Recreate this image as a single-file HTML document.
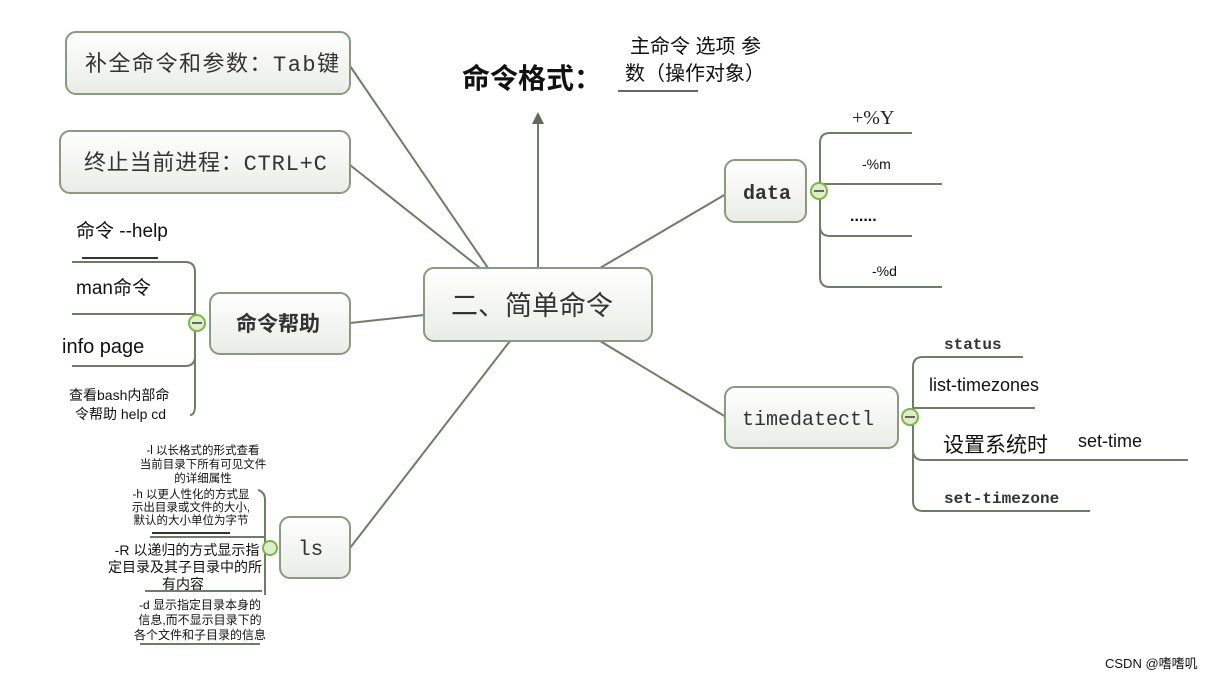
<!DOCTYPE html>
<html><head><meta charset="utf-8"><style>
html,body{margin:0;padding:0;background:#fff;}
svg{display:block;}
.b{fill:url(#g);stroke:#8a9a80;stroke-width:2;}
.l{stroke:#6e7d66;stroke-width:2;fill:none;}
.t{font-family:"Liberation Mono","Noto Sans CJK SC",monospace;fill:#333;}
.s{font-family:"Liberation Sans","Noto Sans CJK SC",sans-serif;fill:#111;}
</style></head><body>
<svg width="1220" height="680" viewBox="0 0 1220 680" xmlns="http://www.w3.org/2000/svg">
<defs>
<linearGradient id="g" x1="0" y1="0" x2="0" y2="1"><stop offset="0" stop-color="#ffffff"/><stop offset="1" stop-color="#e9ece6"/></linearGradient>
</defs>
<line class="l" x1="350" y1="66" x2="488" y2="268"/>
<line class="l" x1="350" y1="165" x2="480" y2="268"/>
<line class="l" x1="538" y1="268" x2="538" y2="122"/>
<polygon points="538,112 532,124 544,124" fill="#5e6e56"/>
<line class="l" x1="600" y1="268" x2="726" y2="194"/>
<line class="l" x1="350" y1="323" x2="424" y2="315"/>
<line class="l" x1="350" y1="548" x2="510" y2="341"/>
<line class="l" x1="600" y1="341" x2="726" y2="417"/>
<rect class="b" x="66" y="32" width="284" height="62" rx="10"/>
<rect class="b" x="60" y="131" width="290" height="62" rx="10"/>
<rect class="b" x="210" y="293" width="140" height="61" rx="10"/>
<rect class="b" x="424" y="268" width="228" height="73" rx="10"/>
<rect class="b" x="725" y="160" width="81" height="62" rx="10"/>
<rect class="b" x="725" y="387" width="173" height="61" rx="10"/>
<rect class="b" x="280" y="517" width="70" height="61" rx="10"/>
<text class="t" x="85" y="71" font-size="22" letter-spacing="1.5">补全命令和参数：Tab键</text>
<text class="t" x="84" y="170" font-size="22" letter-spacing="0.8">终止当前进程：CTRL+C</text>
<text class="t" x="236" y="331" font-size="21" font-weight="bold">命令帮助</text>
<text class="t" x="451" y="315" font-size="27">二、简单命令</text>
<text class="t" x="743" y="199" font-size="20" font-weight="bold">data</text>
<text class="t" x="742" y="425" font-size="20">timedatectl</text>
<text class="t" x="298" y="555" font-size="21">ls</text>
<text class="s" x="462" y="88" font-size="28" font-weight="bold" fill="#222">命令格式：</text>
<text class="s" x="630" y="53" font-size="20">主命令 选项 参</text>
<text class="s" x="625" y="80" font-size="20">数（操作对象）</text>
<line x1="618" y1="91" x2="698" y2="91" stroke="#333" stroke-width="1.5"/>
<path class="l" d="M912,133 H830 Q820,133 820,143 V277 Q820,287 830,287 H942"/>
<path class="l" d="M820,184 H942 M820,226 Q820,236 830,236 H912"/>
<circle cx="819" cy="191" r="8" fill="#dfeec9" stroke="#7ab648" stroke-width="2"/>
<line x1="814" y1="191" x2="824" y2="191" stroke="#666" stroke-width="2"/>
<text x="852" y="124" font-size="20" font-family="Liberation Serif,serif" fill="#222">+%Y</text>
<text class="s" x="862" y="169" font-size="14">-%m</text>
<text class="s" x="850" y="221" font-size="16" font-weight="bold">......</text>
<text class="s" x="872" y="276" font-size="14">-%d</text>
<path class="l" d="M1023,357 H923 Q913,357 913,367 V501 Q913,511 923,511 H1090"/>
<path class="l" d="M913,408 H1035 M913,450 Q913,460 923,460 H1188"/>
<circle cx="910" cy="417" r="8" fill="#dfeec9" stroke="#7ab648" stroke-width="2"/>
<line x1="905" y1="417" x2="915" y2="417" stroke="#666" stroke-width="2"/>
<text class="t" x="944" y="349" font-size="16" font-weight="bold">status</text>
<text class="s" x="929" y="391" font-size="18">list-timezones</text>
<text class="s" x="943" y="452" font-size="21" fill="#333">设置系统时</text>
<text class="s" x="1078" y="447" font-size="18">set-time</text>
<text class="t" x="944" y="503" font-size="16" font-weight="bold">set-timezone</text>
<path class="l" d="M72,262 H185 Q195,262 195,272 V405 Q195,415 190,415"/>
<path class="l" d="M72,314 H195 M72,366 H185 Q195,366 195,356"/>
<line x1="82" y1="258" x2="158" y2="258" stroke="#333" stroke-width="2"/>
<circle cx="197" cy="323" r="8" fill="#dfeec9" stroke="#7ab648" stroke-width="2"/>
<line x1="192" y1="323" x2="202" y2="323" stroke="#666" stroke-width="2"/>
<text class="s" x="76" y="237" font-size="19">命令 --help</text>
<text class="s" x="76" y="294" font-size="19">man命令</text>
<text class="s" x="62" y="353" font-size="20">info page</text>
<text class="s" x="69" y="400" font-size="14">查看bash内部命</text>
<text class="s" x="75" y="419" font-size="14">令帮助 help cd</text>
<path class="l" d="M258,490 Q265,492 265,500 V595"/>
<path class="l" d="M150,537 H265 M145,591 H262 M140,644 H260"/>
<line x1="152" y1="533" x2="230" y2="533" stroke="#333" stroke-width="2"/>
<circle cx="270" cy="548" r="7" fill="#dfeec9" stroke="#7ab648" stroke-width="2"/>
<g class="s" font-size="11.5" text-anchor="middle">
<text x="203" y="454">-l 以长格式的形式查看</text>
<text x="203" y="468">当前目录下所有可见文件</text>
<text x="203" y="482">的详细属性</text>
<text x="191" y="498">-h 以更人性化的方式显</text>
<text x="191" y="511">示出目录或文件的大小,</text>
<text x="191" y="524">默认的大小单位为字节</text>
</g>
<g class="s" font-size="14" text-anchor="middle">
<text x="187" y="555">-R 以递归的方式显示指</text>
<text x="185" y="572">定目录及其子目录中的所</text>
<text x="183" y="589">有内容</text>
</g>
<g class="s" font-size="12" text-anchor="middle">
<text x="200" y="609">-d 显示指定目录本身的</text>
<text x="200" y="624">信息,而不显示目录下的</text>
<text x="200" y="639">各个文件和子目录的信息</text>
</g>
<text class="s" x="1105" y="668" font-size="13" fill="#999">CSDN @嗜嗜叽</text>
</svg>
</body></html>
